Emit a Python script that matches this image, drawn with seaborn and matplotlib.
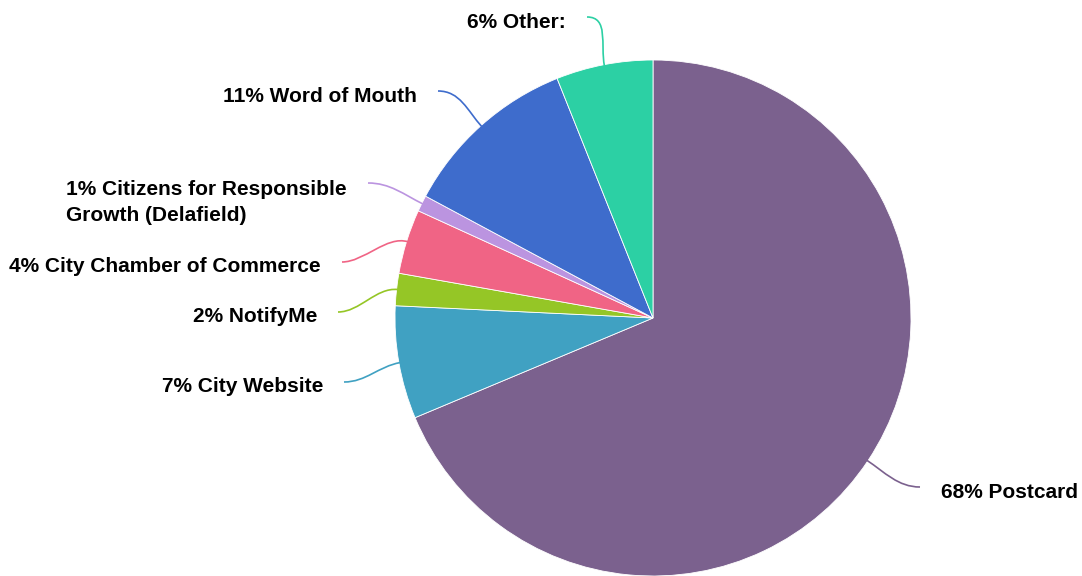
import numpy as np
import matplotlib
matplotlib.use("Agg")
import matplotlib.pyplot as plt
from matplotlib.path import Path
from matplotlib.patches import PathPatch
import seaborn as sns

# Survey: how respondents heard about the project
sources = ["Postcard", "City Website", "NotifyMe", "City Chamber of Commerce",
           "Citizens for Responsible\nGrowth (Delafield)", "Word of Mouth", "Other:"]
shares = [68, 7, 2, 4, 1, 11, 6]
colors = ["#7B618E", "#40A1C2", "#95C626", "#F06485", "#BB94E0", "#3E6CCC", "#2CD0A4"]

sns.set_theme(style="white")
plt.rcParams["font.family"] = ["Liberation Sans", "DejaVu Sans"]

W, H = 1082, 576
fig = plt.figure(figsize=(W / 100, H / 100), dpi=100)
ax = fig.add_axes([0, 0, 1, 1])
ax.set_xlim(0, W)
ax.set_ylim(0, H)
ax.set_aspect("equal")
ax.axis("off")

cx, cy, R = 653, H - 318, 258
wedges, _ = ax.pie(shares, colors=colors, startangle=90, counterclock=False,
                   radius=R, center=(cx, cy), frame=True,
                   wedgeprops=dict(edgecolor="white", linewidth=0.6))
ax.set_xlim(0, W)
ax.set_ylim(0, H)
ax.axis("off")

# Leader end points (pixel coords from the top-left) and text side
leader_ends = [(920, 487, "left"), (344, 382, "right"), (338, 312, "right"),
               (342, 262, "right"), (368, 183, "right"), (438, 91, "right"),
               (587, 17, "right")]

for w, src, val, col, (ex, ey_px, side) in zip(wedges, sources, shares, colors, leader_ends):
    mid = np.deg2rad((w.theta1 + w.theta2) / 2)
    ux, uy = np.cos(mid), np.sin(mid)
    sx, sy = cx + R * ux * 0.995, cy + R * uy * 0.995
    ey = H - ey_px
    c1 = (sx + 22 * ux, sy + 22 * uy)
    sign = 1 if side == "left" else -1
    c2 = (ex - sign * 22, ey)
    path = Path([(sx, sy), c1, c2, (ex, ey)],
                [Path.MOVETO, Path.CURVE4, Path.CURVE4, Path.CURVE4])
    ax.add_patch(PathPatch(path, facecolor="none", edgecolor=col, lw=1.2))

    label = f"{val}% {src}"
    tx = ex + sign * 21
    if "\n" in src:
        ax.text(tx, ey + 3, label, ha="right", va="top", multialignment="left",
                fontsize=15, fontweight="bold", color="black", linespacing=1.45)
    else:
        ax.text(tx, ey - 5, label, ha=side, va="center",
                fontsize=15, fontweight="bold", color="black")

fig.savefig("out.png", dpi=100)
